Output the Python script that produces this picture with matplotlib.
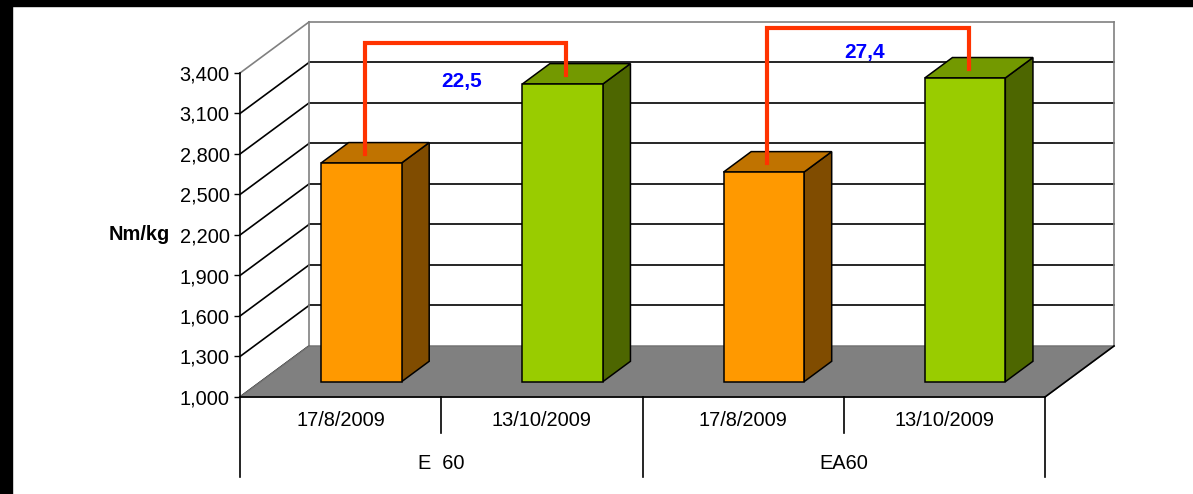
import numpy as np
import matplotlib
matplotlib.use("Agg")
import matplotlib.pyplot as plt
from matplotlib.patches import Polygon, Rectangle
from matplotlib.ticker import FuncFormatter

plt.rcParams['font.family'] = ['Liberation Sans', 'DejaVu Sans']

# données
groupes = ["E  60", "EA60"]
dates = ["17/8/2009", "13/10/2009", "17/8/2009", "13/10/2009"]
valeurs = [2620, 3205, 2553, 3250]
pourcentages = ["22,5", "27,4"]
hauteur_crochet = [3470, 3580]
hauteur_pct = [3220, 3440]

couleurs_face = ["#FF9900", "#99CC00", "#FF9900", "#99CC00"]
couleurs_dessus = ["#C07300", "#739900", "#C07300", "#739900"]
couleurs_cote = ["#804C00", "#4D6600", "#804C00", "#4D6600"]

y_min, y_max, y_pas = 1000, 3400, 300
# profondeur 3D (en unités de données)
DX, DY = 0.343, 378.0


def proj(x, v, d):
    return (x + d * DX, v + d * DY)


fig = plt.figure(figsize=(11.93, 4.94), dpi=100, facecolor="white")
W, H = 1193, 494
ax = fig.add_axes([240 / W, (H - 397) / H, 805 / W, 324 / H])
ax.set_xlim(0, len(dates))
ax.set_ylim(y_min, y_max)
ax.patch.set_visible(False)

# murs et quadrillage
ticks = np.arange(y_min, y_max + 1, y_pas)
for v in ticks:
    c = "#808080" if v == y_max else "black"
    p0, p1 = proj(0, v, 0), proj(0, v, 1)
    ax.plot([p0[0], p1[0]], [p0[1], p1[1]], color=c, lw=1.2, clip_on=False, zorder=1)
    p2 = proj(len(dates), v, 1)
    if v > y_min:
        ax.plot([p1[0], p2[0]], [p1[1], p2[1]], color=c, lw=1.2, clip_on=False, zorder=1)
for xb in [0, len(dates)]:
    a, b = proj(xb, y_min, 1), proj(xb, y_max, 1)
    ax.plot([a[0], b[0]], [a[1], b[1]], color="#808080", lw=1.2, clip_on=False, zorder=1)

# sol
sol = [proj(0, y_min, 0), proj(len(dates), y_min, 0),
       proj(len(dates), y_min, 1), proj(0, y_min, 1)]
ax.add_patch(Polygon(sol, closed=True, facecolor="#808080", edgecolor="#707070",
                     lw=1, clip_on=False, zorder=2))
a, b = proj(len(dates), y_min, 0), proj(len(dates), y_min, 1)
ax.plot([a[0], b[0]], [a[1], b[1]], color="black", lw=1.2, clip_on=False, zorder=2)

# barres 3D
larg = 0.4
d0, d1 = 0.3, 0.7
for i, v in enumerate(valeurs):
    x0, x1 = i + 0.5 - larg / 2, i + 0.5 + larg / 2
    face = [proj(x0, y_min, d0), proj(x1, y_min, d0), proj(x1, v, d0), proj(x0, v, d0)]
    dessus = [proj(x0, v, d0), proj(x1, v, d0), proj(x1, v, d1), proj(x0, v, d1)]
    cote = [proj(x1, y_min, d0), proj(x1, y_min, d1), proj(x1, v, d1), proj(x1, v, d0)]
    for pts, col in [(cote, couleurs_cote[i]), (dessus, couleurs_dessus[i]), (face, couleurs_face[i])]:
        ax.add_patch(Polygon(pts, closed=True, facecolor=col, edgecolor="black",
                             lw=1.1, clip_on=False, zorder=3))

# crochets et pourcentages
dc = 0.35
for k in range(len(pourcentages)):
    i, j = 2 * k, 2 * k + 1
    xa, xb = i + 0.5, j + 0.5
    pts = [proj(xa, valeurs[i] + 50, dc), proj(xa, hauteur_crochet[k] + 20, dc),
           proj(xb, hauteur_crochet[k] + 20, dc), proj(xb, valeurs[j] + 50, dc)]
    ax.plot([p[0] for p in pts], [p[1] for p in pts], color="#FF3300", lw=3,
            solid_joinstyle="miter", clip_on=False, zorder=5)
    px, py = proj((xa + xb) / 2, hauteur_pct[k], 0.3)
    ax.text(px, py, pourcentages[k], color="#0000FF", fontsize=15, fontweight="bold",
            ha="center", va="center", zorder=6)

# axes
for s in ["top", "right"]:
    ax.spines[s].set_visible(False)
ax.spines["left"].set_linewidth(1.2)
ax.spines["bottom"].set_linewidth(1.2)
ax.spines["bottom"].set_zorder(4)
ax.set_yticks(ticks)
ax.yaxis.set_major_formatter(FuncFormatter(lambda v, p: f"{v:,.0f}"))
ax.tick_params(axis="y", direction="out", length=4.5, width=1, pad=3, labelsize=14.4)
ax.set_xticks([])
ax.set_ylabel("Nm/kg", rotation=0, fontweight="bold", fontsize=14.4, ha="center", va="center")
ax.yaxis.set_label_coords(-0.1248, 0.5)

# étiquettes de catégories
for i, lab in enumerate(dates):
    ax.annotate(lab, xy=(i + 0.5, 0), xycoords=("data", "axes fraction"),
                xytext=(0, -23), textcoords="offset pixels",
                ha="center", va="center", fontsize=14.4)
for g, lab in enumerate(groupes):
    ax.annotate(lab, xy=(2 * g + 1, 0), xycoords=("data", "axes fraction"),
                xytext=(0, -66), textcoords="offset pixels",
                ha="center", va="center", fontsize=14.4)
trans = ax.get_xaxis_transform()
for xs in range(len(dates) + 1):
    bas = -80 / 324 if xs % 2 == 0 else -36 / 324
    ax.plot([xs, xs], [0, bas], transform=trans, color="black", lw=1.2, clip_on=False)

# cadre noir
fig.add_artist(Rectangle((0, 1 - 6 / H), 1, 6 / H, transform=fig.transFigure, color="black"))
fig.add_artist(Rectangle((0, 0), 12 / W, 1, transform=fig.transFigure, color="black"))

fig.savefig("out.png", dpi=100, facecolor="white", transparent=False)
